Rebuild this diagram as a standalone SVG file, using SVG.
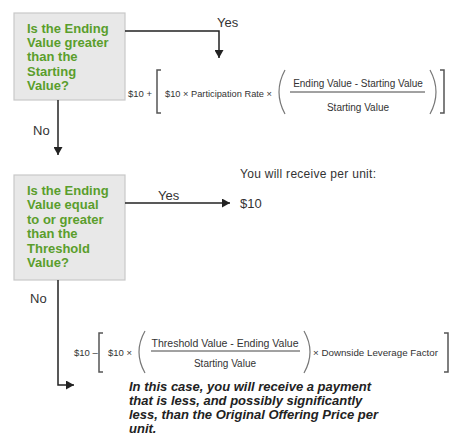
<svg xmlns="http://www.w3.org/2000/svg" width="451" height="436" viewBox="0 0 451 436">
<style>
.box{fill:#e8e8e8;stroke:#c8c8c8;stroke-width:1.2}
.q{font-family:"Liberation Sans",Arial,sans-serif;font-size:13px;font-weight:bold;fill:#5a9e2c}
.lbl{font-family:"Liberation Sans",Arial,sans-serif;font-size:13px;fill:#333}
.f{font-family:"Liberation Sans",Arial,sans-serif;font-size:9.5px;fill:#333}
.br{fill:none;stroke:#555;stroke-width:1.5}
.pr{fill:none;stroke:#777;stroke-width:1.2}
.fl{stroke:#444;stroke-width:1}
.con{fill:none;stroke:#222;stroke-width:1.5}
.note{font-family:"Liberation Sans",Arial,sans-serif;font-size:13px;font-weight:bold;font-style:italic;fill:#222}
</style>
<defs>
<marker id="ah" markerUnits="userSpaceOnUse" markerWidth="9" markerHeight="9" refX="8" refY="4.5" orient="auto">
<path d="M0,0 L8,4.5 L0,9 z" fill="#222"/>
</marker>
</defs>
<rect width="451" height="436" fill="#fff"/>
<g id="q1">
<rect class="box" x="14" y="13" width="111" height="87"/>
<text class="q" x="27" y="32.5">Is the Ending</text>
<text class="q" x="27" y="47">Value greater</text>
<text class="q" x="27" y="61.4">than the</text>
<text class="q" x="27" y="75.8">Starting</text>
<text class="q" x="27" y="90.2">Value?</text>
</g>
<g id="q2">
<rect class="box" x="14" y="175" width="111" height="105"/>
<text class="q" x="27" y="194.5">Is the Ending</text>
<text class="q" x="27" y="209">Value equal</text>
<text class="q" x="27" y="223.5">to or greater</text>
<text class="q" x="27" y="238">than the</text>
<text class="q" x="27" y="252.5">Threshold</text>
<text class="q" x="27" y="267">Value?</text>
</g>
<g id="connectors">
<path class="con" d="M125,31 H219 V58" marker-end="url(#ah)"/>
<path class="con" d="M58,100 V155" marker-end="url(#ah)"/>
<path class="con" d="M125,203 H230" marker-end="url(#ah)"/>
<path class="con" d="M58,280 V385 H74" marker-end="url(#ah)"/>
<text class="lbl" x="217" y="27">Yes</text>
<text class="lbl" x="33" y="134.5">No</text>
<text class="lbl" x="158" y="199.5">Yes</text>
<text class="lbl" x="30" y="302.5">No</text>
</g>
<g id="formula1">
<text class="f" x="128" y="96.5">$10 +</text>
<path class="br" d="M161,70 H157 V113 H161"/>
<text class="f" x="165" y="96.5" textLength="107" lengthAdjust="spacingAndGlyphs">$10 × Participation Rate ×</text>
<path class="pr" d="M285,70 Q273,92 285,114"/>
<text class="f" x="358" y="86.5" text-anchor="middle" style="font-size:10px">Ending Value - Starting Value</text>
<line class="fl" x1="290" y1="92" x2="425" y2="92"/>
<text class="f" x="358" y="110.5" text-anchor="middle" style="font-size:10px">Starting Value</text>
<path class="pr" d="M430,70 Q442,92 430,114"/>
<path class="br" d="M440,70 H444 V113 H440"/>
</g>
<g id="result-yes">
<text class="lbl" x="240" y="178" style="font-size:12px" textLength="136" lengthAdjust="spacing">You will receive per unit:</text>
<text class="lbl" x="240" y="207.5">$10</text>
</g>
<g id="formula2">
<text class="f" x="74" y="355.5">$10 –</text>
<path class="br" d="M103,333 H99 V372 H103"/>
<text class="f" x="108" y="355.5">$10 ×</text>
<path class="pr" d="M145,331 Q133,352 145,373"/>
<text class="f" x="225" y="346.5" text-anchor="middle" style="font-size:10px" textLength="147" lengthAdjust="spacingAndGlyphs">Threshold Value - Ending Value</text>
<line class="fl" x1="151" y1="351" x2="300" y2="351"/>
<text class="f" x="225" y="366.5" text-anchor="middle" style="font-size:10px">Starting Value</text>
<path class="pr" d="M304,331 Q316,352 304,373"/>
<text class="f" x="313" y="355.5" textLength="125" lengthAdjust="spacingAndGlyphs">× Downside Leverage Factor</text>
<path class="br" d="M444,333 H448 V372 H444"/>
</g>
<g id="note">
<text class="note" x="129" y="391">In this case, you will receive a payment</text>
<text class="note" x="129" y="405">that is less, and possibly significantly</text>
<text class="note" x="129" y="419">less, than the Original Offering Price per</text>
<text class="note" x="129" y="433">unit.</text>
</g>
</svg>
